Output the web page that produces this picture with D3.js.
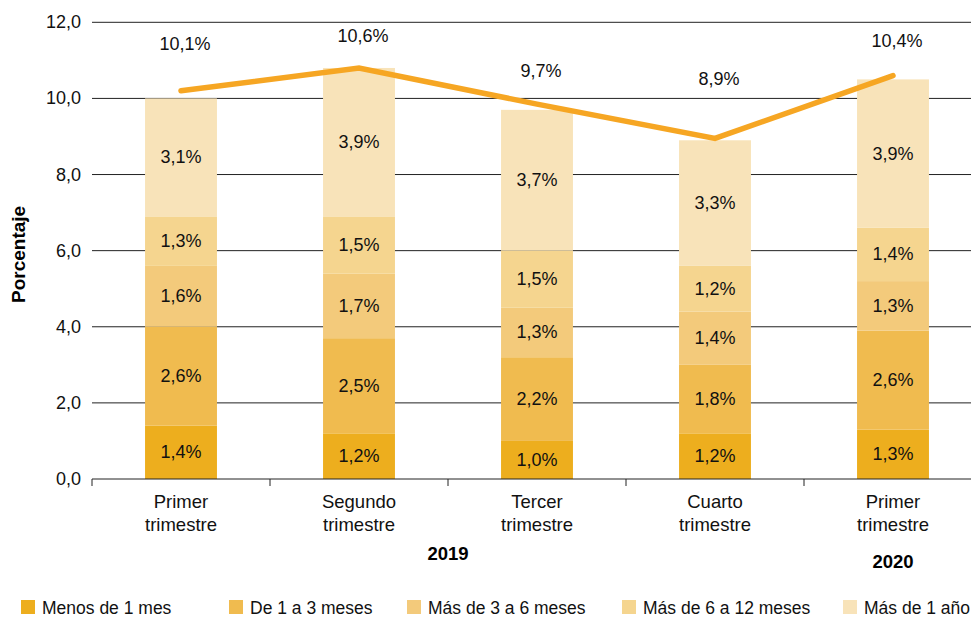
<!DOCTYPE html>
<html>
<head>
<meta charset="utf-8">
<script src="https://cdn.jsdelivr.net/npm/d3@7"></script>
<style>
  html, body { margin: 0; padding: 0; background: #fff; }
  svg { display: block; font-family: "Liberation Sans", Arial, Helvetica, sans-serif; }
</style>
</head>
<body>
<svg id="chart" width="971" height="618"></svg>
<script>
// ---- data ----
const categories = ["2019-T1", "2019-T2", "2019-T3", "2019-T4", "2020-T1"];
const quarterLine1 = ["Primer", "Segundo", "Tercer", "Cuarto", "Primer"];
const quarterLine2 = ["trimestre", "trimestre", "trimestre", "trimestre", "trimestre"];
const seriesNames = ["Menos de 1 mes", "De 1 a 3 meses", "Más de 3 a 6 meses", "Más de 6 a 12 meses", "Más de 1 año"];
const menos1mes   = [1.4, 1.2, 1.0, 1.2, 1.3];
const de1a3       = [2.6, 2.5, 2.2, 1.8, 2.6];
const de3a6       = [1.6, 1.7, 1.3, 1.4, 1.3];
const de6a12      = [1.3, 1.5, 1.5, 1.2, 1.4];
const mas1anio    = [3.1, 3.9, 3.7, 3.3, 3.9];
const totalLine   = [10.2, 10.8, 9.85, 8.95, 10.6];
const totalLabels = ["10,1%", "10,6%", "9,7%", "8,9%", "10,4%"];
const totalLabelLevel = [11.42, 11.63, 10.73, 10.52, 11.5];
const yTicks = [0, 2, 4, 6, 8, 10, 12];
const years = [{ label: "2019", from: 0, to: 3 }, { label: "2020", from: 4, to: 4 }];

const seriesValues = [menos1mes, de1a3, de3a6, de6a12, mas1anio];
const colors = ["#EDAE1E", "#F0BB4F", "#F3CA7B", "#F5D58F", "#F8E3B9"];
const lineColor = "#F6A623";
const textColor = "#111";

// ---- build table ----
const table = categories.map((c, i) => {
  const row = { cat: c };
  seriesNames.forEach((s, j) => row[s] = seriesValues[j][i]);
  return row;
});
const stacked = d3.stack().keys(seriesNames)(table);

const svg = d3.select("#chart");
const x = d3.scaleBand().domain(categories).range([92, 982]).paddingInner(0.596).paddingOuter(0.298);
const y = d3.scaleLinear().domain([0, 12]).range([479, 22.3]);
const step = x.step();
const fmt = v => d3.format(".1f")(v).replace(".", ",");

// gridlines
svg.append("g").selectAll("line").data(yTicks.filter(t => t > 0)).join("line")
  .attr("x1", 92).attr("x2", 971)
  .attr("y1", d => y(d)).attr("y2", d => y(d))
  .attr("stroke", "#222").attr("stroke-width", 1);

// y tick labels
svg.append("g").selectAll("text").data(yTicks).join("text")
  .attr("x", 81).attr("y", d => y(d))
  .attr("text-anchor", "end").attr("dominant-baseline", "central")
  .attr("font-size", 18).attr("fill", textColor)
  .text(d => fmt(d));

// y axis title
svg.append("text")
  .attr("transform", `translate(18,${y(5.9)}) rotate(-90)`)
  .attr("text-anchor", "middle").attr("dominant-baseline", "central")
  .attr("font-size", 19).attr("font-weight", "bold").attr("fill", "#000")
  .text("Porcentaje");

// bars
const layers = svg.append("g").selectAll("g").data(stacked).join("g")
  .attr("fill", (d, i) => colors[i]);
layers.selectAll("rect").data(d => d.map(p => ({ p, cat: p.data.cat }))).join("rect")
  .attr("x", d => x(d.cat))
  .attr("width", x.bandwidth())
  .attr("y", d => y(d.p[1]))
  .attr("height", d => y(d.p[0]) - y(d.p[1]));

// segment labels
layers.selectAll("text").data(d => d.map(p => ({ p, cat: p.data.cat }))).join("text")
  .attr("x", d => x(d.cat) + x.bandwidth() / 2)
  .attr("y", d => (y(d.p[0]) + y(d.p[1])) / 2)
  .attr("text-anchor", "middle").attr("dominant-baseline", "central")
  .attr("font-size", 18).attr("fill", textColor)
  .text(d => fmt(d.p[1] - d.p[0]) + "%");

// x axis line + ticks
svg.append("line").attr("x1", 92).attr("x2", 971).attr("y1", 479).attr("y2", 479)
  .attr("stroke", "#222").attr("stroke-width", 1);
svg.append("g").selectAll("line").data(categories).join("line")
  .attr("x1", d => x(d) + x.bandwidth() / 2 - step / 2)
  .attr("x2", d => x(d) + x.bandwidth() / 2 - step / 2)
  .attr("y1", 479).attr("y2", 486)
  .attr("stroke", "#222").attr("stroke-width", 1);

// x labels
const xl = svg.append("g").selectAll("text").data(categories).join("text")
  .attr("text-anchor", "middle").attr("font-size", 18.5).attr("fill", textColor);
xl.append("tspan").attr("x", d => x(d) + x.bandwidth() / 2).attr("y", 508).text((d, i) => quarterLine1[i]);
xl.append("tspan").attr("x", d => x(d) + x.bandwidth() / 2).attr("y", 531).text((d, i) => quarterLine2[i]);

// year labels
svg.append("g").selectAll("text").data(years).join("text")
  .attr("x", d => (x(categories[d.from]) + x(categories[d.to]) + x.bandwidth()) / 2)
  .attr("y", (d, i) => i === 0 ? 560 : 568)
  .attr("text-anchor", "middle").attr("font-size", 18.5).attr("font-weight", "bold").attr("fill", "#000")
  .text(d => d.label);

// total line
const line = d3.line().x((d, i) => x(categories[i]) + x.bandwidth() / 2).y(d => y(d));
svg.append("path").datum(totalLine)
  .attr("d", line).attr("fill", "none")
  .attr("stroke", lineColor).attr("stroke-width", 5.5)
  .attr("stroke-linecap", "round").attr("stroke-linejoin", "miter");

// total labels
svg.append("g").selectAll("text").data(totalLabels).join("text")
  .attr("x", (d, i) => x(categories[i]) + x.bandwidth() / 2 + 4)
  .attr("y", (d, i) => y(totalLabelLevel[i]))
  .attr("text-anchor", "middle").attr("dominant-baseline", "central")
  .attr("font-size", 18).attr("fill", textColor)
  .text(d => d);

// legend
const legendX = [21, 229, 407, 622, 843];
const lg = svg.append("g").selectAll("g").data(seriesNames).join("g")
  .attr("transform", (d, i) => `translate(${legendX[i]},600)`);
lg.append("rect").attr("width", 14).attr("height", 14).attr("fill", (d, i) => colors[i]);
lg.append("text").attr("x", 21).attr("y", 7.5).attr("dominant-baseline", "central")
  .attr("font-size", 17.5).attr("fill", textColor).text(d => d);
</script>
</body>
</html>
